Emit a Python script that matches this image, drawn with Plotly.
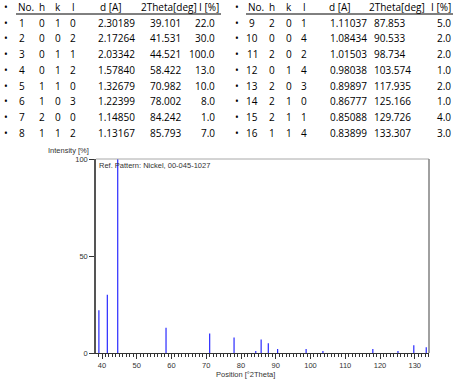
import plotly.graph_objects as go

# ---- data ----
no_ = [1, 2, 3, 4, 5, 6, 7, 8, 9, 10, 11, 12, 13, 14, 15, 16]
h_ = [0, 0, 0, 0, 1, 1, 2, 1, 2, 0, 2, 0, 2, 2, 2, 1]
k_ = [1, 0, 1, 1, 1, 0, 0, 1, 0, 0, 0, 1, 0, 1, 1, 1]
l_ = [0, 2, 1, 2, 0, 3, 0, 2, 1, 4, 2, 4, 3, 0, 1, 4]
d_ = ["2.30189", "2.17264", "2.03342", "1.57840", "1.32679", "1.22399", "1.14850", "1.13167",
      "1.11037", "1.08434", "1.01503", "0.98038", "0.89897", "0.86777", "0.85088", "0.83899"]
two_theta = [39.101, 41.531, 44.521, 58.422, 70.982, 78.002, 84.242, 85.793,
             87.853, 90.533, 98.734, 103.574, 117.935, 125.166, 129.726, 133.307]
intensity = [22.0, 30.0, 100.0, 13.0, 10.0, 8.0, 1.0, 7.0,
             5.0, 2.0, 2.0, 1.0, 2.0, 1.0, 4.0, 3.0]
headers = ["No.", "h", "k", "l", "d [A]", "2Theta[deg]", "I [%]"]
x_ticks = [40, 50, 60, 70, 80, 90, 100, 110, 120, 130]
y_ticks = [0, 50, 100]
ref_label = "Ref. Pattern: Nickel, 00-045-1027"

# ---- geometry ----
W, H = 459, 382
L, R, T, B = 96, 30, 159, 29
PW, PH = W - L - R, H - T - B


def px(x):
    return (x - L) / PW


def py(y):
    return (H - B - y) / PH


xs, ys = [], []
for t, i in zip(two_theta, intensity):
    xs += [t, t, None]
    ys += [0, i, None]

fig = go.Figure()
fig.add_trace(go.Scatter(x=xs, y=ys, mode="lines",
                         line=dict(color="#2a2aff", width=1.2),
                         hoverinfo="skip", showlegend=False))

TF = "Open Sans, Liberation Sans, sans-serif"
CF = "Liberation Sans, Arial, sans-serif"
ann = []


def txt(x, y, s, anchor="center", size=10, font=TF, color="black"):
    ann.append(dict(x=px(x), y=py(y), xref="paper", yref="paper", text=s,
                    showarrow=False, xanchor=anchor, yanchor="middle",
                    font=dict(family=font, size=size, color=color)))


# table layout: (bullet, No, h, k, l, d-left, 2theta-left, I-right)
cols = [
    dict(b=6, no=22, h=42, k=58, l=73, d=96, t=148, i=217,
         hno=16, hd=98, ht=139, hi=221, ul=(16, 221)),
    dict(b=237, no=252, h=272, k=289, l=304, d=328, t=372, i=453,
         hno=246, hd=327, ht=367, hi=453, ul=(246, 453)),
]
row_y0, row_dy = 7.0, 15.7
shapes = []
for c_i, c in enumerate(cols):
    y = row_y0
    txt(c["b"], y, "•")
    txt(c["hno"], y, headers[0], "left")
    txt(c["h"], y, headers[1])
    txt(c["k"], y, headers[2])
    txt(c["l"], y, headers[3])
    txt(c["hd"], y, headers[4], "left")
    txt(c["ht"], y, headers[5], "left")
    txt(c["hi"], y, headers[6], "right")
    shapes.append(dict(type="line", xref="paper", yref="paper",
                       x0=px(c["ul"][0]), x1=px(c["ul"][1]), y0=py(14), y1=py(14),
                       line=dict(color="black", width=1)))
    for r in range(8):
        n = c_i * 8 + r
        y = row_y0 + row_dy * (r + 1)
        txt(c["b"], y, "•")
        txt(c["no"], y, str(no_[n]))
        txt(c["h"], y, str(h_[n]))
        txt(c["k"], y, str(k_[n]))
        txt(c["l"], y, str(l_[n]))
        txt(c["d"], y, d_[n], "left")
        txt(c["t"], y, f"{two_theta[n]:.3f}", "left")
        txt(c["i"], y, f"{intensity[n]:.1f}", "right")

# chart labels
txt(91, 150, "Intensity [%]", "right", size=7.5, font=CF, color="#333")
txt(97, 165, ref_label, "left", size=7.5, font=CF, color="#333")
txt(245, 374, "Position [°2Theta]", "center", size=7.5, font=CF, color="#333")

# borders top and right
shapes.append(dict(type="line", xref="paper", yref="paper", x0=0, x1=1, y0=1, y1=1,
                   line=dict(color="#a8a8a8", width=1)))
shapes.append(dict(type="line", xref="paper", yref="paper", x0=1, x1=1, y0=0, y1=1,
                   line=dict(color="#808080", width=1.5)))

fig.update_layout(
    width=W, height=H,
    margin=dict(l=L, r=R, t=T, b=B),
    paper_bgcolor="white", plot_bgcolor="white",
    annotations=ann, shapes=shapes,
    showlegend=False,
    xaxis=dict(range=[38.27, 134.1], tickvals=x_ticks, ticks="outside", ticklen=5,
               tickcolor="#333", showline=True, linecolor="#333", linewidth=1,
               showgrid=False, zeroline=False,
               minor=dict(dtick=1, ticks="outside", ticklen=3, tickcolor="#333", showgrid=False),
               tickfont=dict(family=CF, size=7.5, color="#333")),
    yaxis=dict(range=[0, 100], tickvals=y_ticks, ticks="outside", ticklen=5,
               tickcolor="#333", showline=True, linecolor="#555", linewidth=1.5,
               showgrid=False, zeroline=False,
               tickfont=dict(family=CF, size=7.5, color="#333")),
)

fig.write_html("out.html", config={"displayModeBar": False},
               post_script="document.body.style.margin='0';document.body.style.overflow='hidden';")
